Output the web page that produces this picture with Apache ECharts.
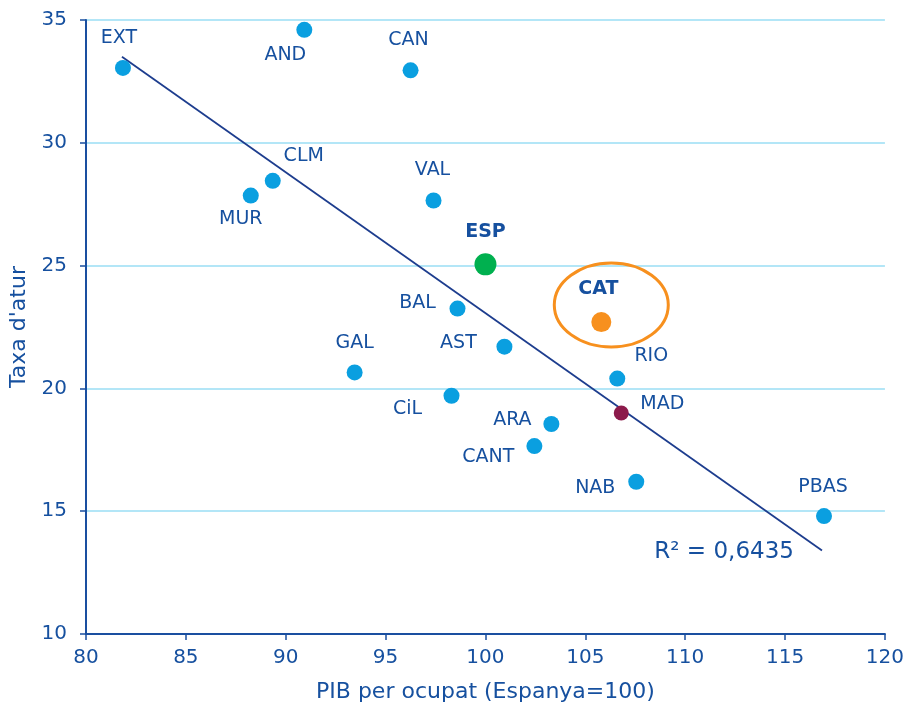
<!DOCTYPE html>
<html><head><meta charset="utf-8">
<script src="https://cdn.jsdelivr.net/npm/echarts@6/dist/echarts.min.js"></script>
<style>html,body{margin:0;padding:0;background:#fff}#c{width:907px;height:708px}</style>
</head><body><div id="c"></div>
<script>
const regions = ['EXT','AND','CAN','CLM','MUR','VAL','ESP','BAL','CAT','AST','GAL','RIO','CiL','MAD','ARA','CANT','NAB','PBAS'];
const pibOcupat = [81.85,90.93,96.25,89.35,88.25,97.4,100.0,98.6,105.8,100.95,93.45,106.6,98.3,106.8,103.3,102.45,107.55,116.95];
const taxaAtur = [33.05,34.6,32.95,28.45,27.85,27.65,25.05,23.25,22.7,21.7,20.65,20.4,19.7,19.0,18.55,17.65,16.2,14.8];
const trendX = [81.8,116.85];
const trendY = [33.5,13.4];
const r2Text = 'R² = 0,6435';
const xTicks = [80,85,90,95,100,105,110,115,120];
const yTicks = [10,15,20,25,30,35];

const font = '"DejaVu Sans", sans-serif';
const txt = '#16509f';
// label layout (styling only)
const labelLayout = {
  EXT:[-4,-30], AND:[-19,25], CAN:[-2,-30], CLM:[31,-25], MUR:[-10,23], VAL:[-1,-30],
  ESP:[0,-32], BAL:[-40,-6], CAT:[-3,-33], AST:[-46,-4], GAL:[0,-29], RIO:[34,-23],
  CiL:[-44,13], MAD:[41,-9], ARA:[-39,-4], CANT:[-46,11], NAB:[-41,6], PBAS:[-1,-29]
};
const special = {
  ESP:{color:'#00b04f',size:22,bold:true},
  CAT:{color:'#f7901e',size:20,bold:true},
  MAD:{color:'#8c1a4b',size:15}
};
const pts = regions.map((r,i)=>{
  const s = special[r] || {};
  return {
    name:r, value:[pibOcupat[i], taxaAtur[i]],
    symbolSize: s.size || 16,
    itemStyle:{color: s.color || '#0a9fe0', opacity:1},
    label:{show:true, formatter:r, position:'inside', offset:labelLayout[r],
      color:txt, fontSize:19, fontFamily:font, fontWeight: s.bold?'bold':'normal'}
  };
});

const chart = echarts.init(document.getElementById('c'));
chart.setOption({
  animation:false,
  grid:{left:86,right:21,top:20,bottom:72,containLabel:false},
  xAxis:{type:'value',min:80,max:120,interval:5,
    name:'PIB per ocupat (Espanya=100)',nameLocation:'middle',nameGap:47,
    nameTextStyle:{color:txt,fontSize:22,fontFamily:font},
    axisLine:{show:true,onZero:false,lineStyle:{color:'#1a4fa0',width:2}},
    axisTick:{show:true,length:6,lineStyle:{color:'#1a4fa0',width:1.5}},
    axisLabel:{color:txt,fontSize:20,fontFamily:font,margin:14},
    splitLine:{show:false}},
  yAxis:{type:'value',min:10,max:35,interval:5,
    name:"Taxa d'atur",nameLocation:'middle',nameGap:54,nameRotate:90,
    nameTextStyle:{color:txt,fontSize:22,fontFamily:font},
    axisLine:{show:true,onZero:false,lineStyle:{color:'#1a4fa0',width:2}},
    axisTick:{show:true,length:6,lineStyle:{color:'#1a4fa0',width:1.5}},
    axisLabel:{color:txt,fontSize:20,fontFamily:font,margin:19},
    splitLine:{show:true,lineStyle:{color:'#b3e6f7',width:2}}},
  series:[
    {type:'line',data:trendX.map((x,i)=>[x,trendY[i]]),symbol:'none',
      lineStyle:{color:'#1d3d8e',width:1.8},z:2,silent:true},
    {type:'scatter',data:pts,z:3},
    {type:'custom',z:4,silent:true,data:[[106.3,23.4]],
      renderItem:(params,api)=>{
        const c = api.coord([api.value(0),api.value(1)]);
        return {type:'ellipse',shape:{cx:c[0],cy:c[1],rx:57,ry:42},
          style:{fill:'none',stroke:'#f7901e',lineWidth:3}};
      }},
    {type:'custom',z:4,silent:true,data:[[111.95,13.35]],
      renderItem:(params,api)=>{
        const c = api.coord([api.value(0),api.value(1)]);
        return {type:'text',x:c[0],y:c[1],
          style:{text:r2Text,fill:txt,fontSize:23,fontFamily:font,align:'center',verticalAlign:'middle'}};
      }}
  ]
});
</script></body></html>
